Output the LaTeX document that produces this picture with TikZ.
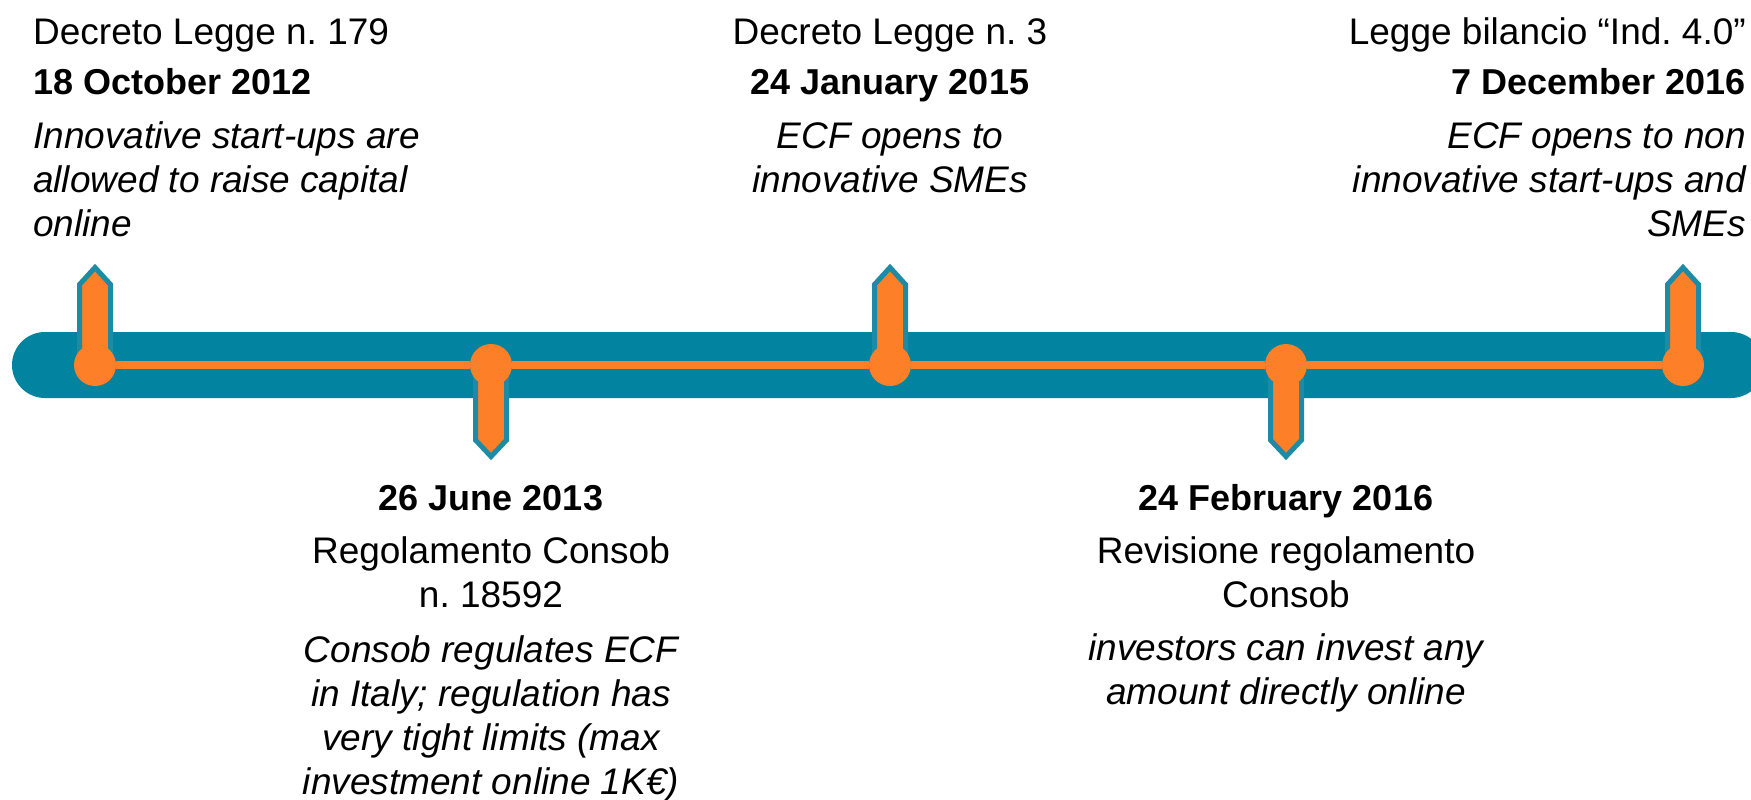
\documentclass[tikz,border=0pt]{standalone}
\usepackage{fontspec}
\setmainfont{Liberation Sans}
\definecolor{barteal}{RGB}{2,131,160}
\definecolor{stemteal}{RGB}{28,139,165}
\definecolor{tlorange}{RGB}{253,127,39}
\begin{document}
\begin{tikzpicture}[x=1pt,y=-1pt,
  txt/.style={inner sep=0pt, font=\fontsize{37}{44.5}\selectfont},
  datetxt/.style={inner sep=0pt, font=\fontsize{36}{44}\selectfont\bfseries},
  desc/.style={inner sep=0pt, font=\fontsize{37}{44}\selectfont\itshape},
  dot/.style={circle, fill=tlorange, minimum size=42pt, inner sep=0pt},
  tlline/.style={draw=tlorange, line width=8pt},
  stemshape/.style={fill=tlorange, draw=stemteal, line width=5pt, line join=miter},
]
\clip (0,0) rectangle (1751,800);
\fill[white] (0,0) rectangle (1751,800);
% bar
\fill[barteal, rounded corners=33pt] (12,332) rectangle (1764,398);
% event positions
\coordinate (c1) at (95,365);
\coordinate (c2) at (491,365);
\coordinate (c3) at (890,365);
\coordinate (c4) at (1286,365);
\coordinate (c5) at (1683,365);
% stems up
\foreach \c in {c1,c3,c5}{
  \path[stemshape] (\c) ++(-15.5,0) -- ++(0,-80.5) -- ++(15.5,-17) -- ++(15.5,17) -- ++(0,80.5);
}
% stems down
\foreach \c in {c2,c4}{
  \path[stemshape] (\c) ++(-15.5,0) -- ++(0,75) -- ++(15.5,16.5) -- ++(15.5,-16.5) -- ++(0,-75);
}
% dots
\node[dot] (d1) at (c1) {};
\node[dot] (d2) at (c2) {};
\node[dot] (d3) at (c3) {};
\node[dot] (d4) at (c4) {};
\node[dot] (d5) at (c5) {};
% orange line
\draw[tlline] (d1) -- (d2);
\draw[tlline] (d2) -- (d3);
\draw[tlline] (d3) -- (d4);
\draw[tlline] (d4) -- (d5);
% top left
\node[txt, anchor=base west] (t1a) at (33,45) {Decreto Legge n.\ 179};
\node[datetxt, anchor=base west] (t1b) at (33,95) {18 October 2012};
\node[desc, anchor=base west, align=left] (t1c) at (33,236) {Innovative start-ups are\\allowed to raise capital\\online};
% top middle
\node[txt, anchor=base] (t3a) at (890,45) {Decreto Legge n.\ 3};
\node[datetxt, anchor=base] (t3b) at (890,95) {24 January 2015};
\node[desc, anchor=base, align=center] (t3c) at (890,192) {ECF opens to\\innovative SMEs};
% top right
\node[txt, anchor=base east] (t5a) at (1746,45) {Legge bilancio “Ind.\ 4.0”};
\node[datetxt, anchor=base east] (t5b) at (1746,95) {7 December 2016};
\node[desc, anchor=base east, align=right] (t5c) at (1746,236) {ECF opens to non\\innovative start-ups and\\SMEs};
% bottom left
\node[datetxt, anchor=base] (t2a) at (491,510) {26 June 2013};
\node[txt, anchor=base, align=center] (t2b) at (491,607.5) {Regolamento Consob\\n.\ 18592};
\node[desc, anchor=base, align=center] (t2c) at (491,794) {Consob regulates ECF\\in Italy; regulation has\\very tight limits (max\\investment online 1K€)};
% bottom right
\node[datetxt, anchor=base] (t4a) at (1286,510) {24 February 2016};
\node[txt, anchor=base, align=center] (t4b) at (1286,607.5) {Revisione regolamento\\Consob};
\node[desc, anchor=base, align=center] (t4c) at (1286,704) {investors can invest any\\amount directly online};
\end{tikzpicture}
\end{document}
